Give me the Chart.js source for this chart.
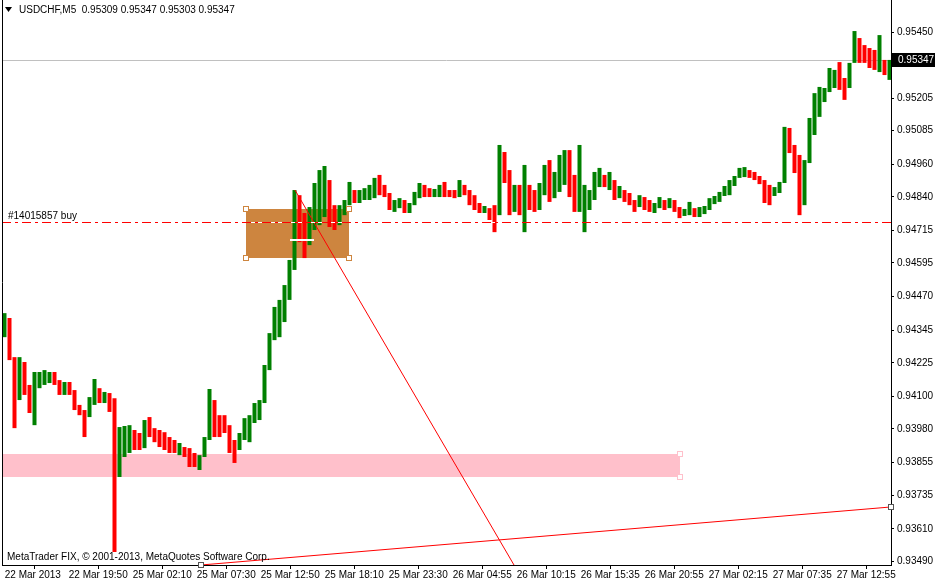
<!DOCTYPE html>
<html>
<head>
<meta charset="utf-8">
<script src="https://cdn.jsdelivr.net/npm/chart.js@4.4.1/dist/chart.umd.min.js"></script>
<style>
  html, body { margin: 0; padding: 0; background: #fff; overflow: hidden; }
  canvas { display: block; }
</style>
</head>
<body>
<canvas id="chart" width="935" height="583"></canvas>
<script>
// USDCHF M5, each point = 5 bars of M5 (25 min)
const tickLabels = ['22 Mar 2013', '22 Mar 19:50', '25 Mar 02:10', '25 Mar 07:30', '25 Mar 12:50', '25 Mar 18:10',
  '25 Mar 23:30', '26 Mar 04:55', '26 Mar 10:15', '26 Mar 15:35', '26 Mar 20:55', '27 Mar 02:15', '27 Mar 07:35', '27 Mar 12:55'];
const priceTicks = [0.95450, 0.95330, 0.95205, 0.95085, 0.94960, 0.94840, 0.94715, 0.94595, 0.94470,
  0.94345, 0.94225, 0.94100, 0.93980, 0.93855, 0.93735, 0.93610, 0.93490];

const highs = [
  0.94409, 0.94391, 0.94246, 0.94246, 0.94228, 0.94143, 0.94191, 0.94191, 0.94198, 0.94191,
  0.94191, 0.94161, 0.94154, 0.94154, 0.94124, 0.94069, 0.94050, 0.94098, 0.94165, 0.94131,
  0.94117, 0.94113, 0.94094, 0.93987, 0.93991, 0.93994, 0.93976, 0.93965, 0.94013, 0.94024,
  0.93983, 0.93976, 0.93968, 0.93950, 0.93939, 0.93928, 0.93913, 0.93909, 0.93891, 0.93883,
  0.93950, 0.94128, 0.94087, 0.94031, 0.94031, 0.93994, 0.93939, 0.93965, 0.94020, 0.94031,
  0.94076, 0.94087, 0.94217, 0.94335, 0.94432, 0.94458, 0.94513, 0.94606, 0.94865, 0.94846,
  0.94780, 0.94802, 0.94891, 0.94939, 0.94954, 0.94902, 0.94809, 0.94809, 0.94828, 0.94895,
  0.94865, 0.94865, 0.94872, 0.94884, 0.94910, 0.94921, 0.94884, 0.94854, 0.94828, 0.94835,
  0.94828, 0.94817, 0.94858, 0.94891, 0.94884, 0.94872, 0.94869, 0.94884, 0.94895, 0.94865,
  0.94865, 0.94902, 0.94884, 0.94865, 0.94846, 0.94817, 0.94806, 0.94798, 0.94809, 0.95032,
  0.95006, 0.94939, 0.94884, 0.94884, 0.94958, 0.94884, 0.94865, 0.94891, 0.94958, 0.94976,
  0.94932, 0.94995, 0.95013, 0.95013, 0.94921, 0.95032, 0.94884, 0.94865, 0.94932, 0.94947,
  0.94921, 0.94932, 0.94902, 0.94880, 0.94865, 0.94854, 0.94828, 0.94846, 0.94839, 0.94828,
  0.94817, 0.94839, 0.94828, 0.94835, 0.94828, 0.94802, 0.94795, 0.94821, 0.94798, 0.94802,
  0.94806, 0.94835, 0.94843, 0.94858, 0.94880, 0.94902, 0.94917, 0.94947, 0.94950, 0.94939,
  0.94932, 0.94917, 0.94902, 0.94884, 0.94876, 0.94895, 0.95099, 0.95095, 0.95032, 0.94995,
  0.94976, 0.95132, 0.95224, 0.95247, 0.95243, 0.95317, 0.95310, 0.95339, 0.95280, 0.95336,
  0.95454, 0.95428, 0.95402, 0.95391, 0.95384, 0.95439, 0.95347, 0.95347
];
const lows = [
  0.94320, 0.94235, 0.93983, 0.94087, 0.94106, 0.94039, 0.93994, 0.94131, 0.94143, 0.94150,
  0.94143, 0.94106, 0.94106, 0.94106, 0.94050, 0.94031, 0.93950, 0.94024, 0.94069, 0.94076,
  0.94076, 0.94043, 0.93524, 0.93802, 0.93876, 0.93891, 0.93902, 0.93902, 0.93909, 0.93950,
  0.93931, 0.93913, 0.93902, 0.93891, 0.93891, 0.93883, 0.93876, 0.93839, 0.93839, 0.93828,
  0.93876, 0.93939, 0.93950, 0.93950, 0.93965, 0.93891, 0.93854, 0.93902, 0.93939, 0.93931,
  0.94002, 0.94013, 0.94076, 0.94198, 0.94309, 0.94320, 0.94376, 0.94458, 0.94569, 0.94672,
  0.94613, 0.94661, 0.94717, 0.94735, 0.94765, 0.94728, 0.94717, 0.94735, 0.94772, 0.94809,
  0.94817, 0.94817, 0.94828, 0.94828, 0.94835, 0.94846, 0.94839, 0.94791, 0.94784, 0.94798,
  0.94780, 0.94780, 0.94809, 0.94835, 0.94839, 0.94839, 0.94839, 0.94839, 0.94839, 0.94839,
  0.94835, 0.94839, 0.94846, 0.94809, 0.94791, 0.94780, 0.94780, 0.94754, 0.94709, 0.94772,
  0.94891, 0.94772, 0.94784, 0.94772, 0.94709, 0.94791, 0.94784, 0.94791, 0.94846, 0.94821,
  0.94835, 0.94858, 0.94884, 0.94839, 0.94784, 0.94784, 0.94709, 0.94791, 0.94828, 0.94876,
  0.94876, 0.94865, 0.94828, 0.94835, 0.94821, 0.94809, 0.94784, 0.94802, 0.94791, 0.94784,
  0.94780, 0.94798, 0.94791, 0.94798, 0.94784, 0.94761, 0.94769, 0.94772, 0.94765, 0.94765,
  0.94776, 0.94791, 0.94813, 0.94821, 0.94843, 0.94846, 0.94880, 0.94910, 0.94913, 0.94910,
  0.94902, 0.94887, 0.94817, 0.94809, 0.94843, 0.94854, 0.94891, 0.95002, 0.94928, 0.94772,
  0.94809, 0.94965, 0.95069, 0.95136, 0.95191, 0.95228, 0.95243, 0.95236, 0.95199, 0.95243,
  0.95336, 0.95336, 0.95336, 0.95317, 0.95310, 0.95302, 0.95291, 0.95273
];
const closes = [
  0.94365, 0.94272, 0.94180, 0.94198, 0.94143, 0.94087, 0.94161, 0.94161, 0.94168, 0.94168,
  0.94154, 0.94124, 0.94131, 0.94117, 0.94069, 0.94050, 0.93994, 0.94080, 0.94106, 0.94087,
  0.94106, 0.94069, 0.93828, 0.93920, 0.93939, 0.93968, 0.93939, 0.93931, 0.93994, 0.93976,
  0.93957, 0.93939, 0.93920, 0.93909, 0.93902, 0.93902, 0.93894, 0.93865, 0.93857, 0.93872,
  0.93939, 0.94069, 0.94013, 0.93994, 0.93976, 0.93920, 0.93902, 0.93950, 0.93994, 0.94013,
  0.94057, 0.94069, 0.94198, 0.94309, 0.94402, 0.94420, 0.94476, 0.94569, 0.94791, 0.94735,
  0.94680, 0.94772, 0.94809, 0.94828, 0.94846, 0.94791, 0.94761, 0.94784, 0.94809, 0.94846,
  0.94839, 0.94846, 0.94854, 0.94865, 0.94884, 0.94872, 0.94858, 0.94809, 0.94809, 0.94817,
  0.94798, 0.94809, 0.94846, 0.94865, 0.94858, 0.94854, 0.94858, 0.94865, 0.94858, 0.94850,
  0.94846, 0.94884, 0.94865, 0.94835, 0.94809, 0.94791, 0.94791, 0.94784, 0.94754, 0.94976,
  0.94921, 0.94828, 0.94846, 0.94828, 0.94865, 0.94828, 0.94809, 0.94865, 0.94921, 0.94865,
  0.94884, 0.94947, 0.94958, 0.94884, 0.94828, 0.94828, 0.94828, 0.94835, 0.94902, 0.94902,
  0.94895, 0.94902, 0.94858, 0.94858, 0.94839, 0.94828, 0.94809, 0.94828, 0.94809, 0.94802,
  0.94802, 0.94828, 0.94809, 0.94817, 0.94798, 0.94772, 0.94784, 0.94791, 0.94776, 0.94784,
  0.94798, 0.94821, 0.94835, 0.94846, 0.94865, 0.94884, 0.94902, 0.94932, 0.94932, 0.94921,
  0.94913, 0.94902, 0.94865, 0.94858, 0.94865, 0.94884, 0.95069, 0.95050, 0.94976, 0.94828,
  0.94958, 0.95106, 0.95199, 0.95217, 0.95217, 0.95280, 0.95280, 0.95273, 0.95254, 0.95310,
  0.95402, 0.95384, 0.95365, 0.95347, 0.95339, 0.95384, 0.95310, 0.95347
];

// objects on the chart, in (M5 bar index, price)
const lastPrice = 0.95347;
const orderPrice = 0.94746;
const orderLabel = '#14015857 buy';
const orangeBox = { x: [244, 347], y: [0.94795, 0.94613] };
const pinkBox = { x: [-40, 678], y: [0.93887, 0.93802] };
const trendA = { x: [293, 512], y: [0.94865, 0.93476] };
const trendB = { x: [199, 889], y: [0.93476, 0.93691] };
const entryMark = { x: [288, 312], y: 0.94680 };

const barsPerPoint = 5;
const barsPerLabel = 64;
const priceMin = 0.93476, priceMax = 0.95569;
const titleText = 'USDCHF,M5  0.95309 0.95347 0.95303 0.95347';
const footerText = 'MetaTrader FIX, \u00a9 2001-2013, MetaQuotes Software Corp.';

const upColor = '#008000';
const downColor = '#ff0000';
const font = { family: 'Liberation Sans', size: 10 };
const fontStr = '10px "Liberation Sans"';

const barData = lows.map((lo, i) => ({ x: i * barsPerPoint + barsPerPoint / 2, y: [lo, highs[i]] }));
const barColors = closes.map((c, i) => (i === 0 || c >= closes[i - 1]) ? upColor : downColor);

function boxRect(x, y, box) {
  const x1 = x.getPixelForValue(box.x[0]), x2 = x.getPixelForValue(box.x[1]);
  const y1 = y.getPixelForValue(box.y[0]), y2 = y.getPixelForValue(box.y[1]);
  return [Math.round(x1), Math.round(y1), Math.round(x2), Math.round(y2)];
}

function handle(ctx, px, py, color) {
  ctx.fillStyle = '#fff';
  ctx.fillRect(px - 2, py - 2, 5, 5);
  ctx.strokeStyle = color;
  ctx.lineWidth = 1;
  ctx.strokeRect(px - 2.5, py - 2.5, 5, 5);
}

function noPad(s) {
  s.paddingTop = 0;
  s.paddingBottom = 0;
  s.paddingLeft = 0;
  s.paddingRight = 0;
}

const overlays = {
  id: 'overlays',
  beforeDatasetsDraw(chart) {
    const { ctx, chartArea: a, scales: { x, y } } = chart;
    ctx.save();
    ctx.beginPath();
    ctx.rect(a.left, a.top, a.right - a.left, a.bottom - a.top);
    ctx.clip();
    let r = boxRect(x, y, pinkBox);
    ctx.fillStyle = '#ffc0cb';
    ctx.fillRect(r[0], r[1], r[2] - r[0], r[3] - r[1]);
    r = boxRect(x, y, orangeBox);
    ctx.fillStyle = '#cd853f';
    ctx.fillRect(r[0], r[1], r[2] - r[0], r[3] - r[1]);
    const py = Math.round(y.getPixelForValue(lastPrice)) + 0.5;
    ctx.strokeStyle = '#c0c0c0';
    ctx.lineWidth = 1;
    ctx.beginPath();
    ctx.moveTo(a.left, py);
    ctx.lineTo(a.right, py);
    ctx.stroke();
    ctx.restore();
  },
  afterDatasetsDraw(chart) {
    const { ctx, chartArea: a, scales: { x, y } } = chart;
    ctx.save();
    // order line
    const oy = Math.round(y.getPixelForValue(orderPrice)) + 0.5;
    ctx.lineWidth = 1;
    ctx.strokeStyle = '#fff';
    ctx.beginPath(); ctx.moveTo(a.left, oy); ctx.lineTo(a.right, oy); ctx.stroke();
    ctx.strokeStyle = '#ff0000';
    ctx.setLineDash([9, 4, 3, 4]);
    ctx.beginPath(); ctx.moveTo(a.left, oy); ctx.lineTo(a.right, oy); ctx.stroke();
    ctx.setLineDash([]);
    // entry mark
    const ey = Math.round(y.getPixelForValue(entryMark.y));
    ctx.fillStyle = '#fff';
    ctx.fillRect(x.getPixelForValue(entryMark.x[0]), ey - 1, x.getPixelForValue(entryMark.x[1]) - x.getPixelForValue(entryMark.x[0]), 2);
    // handles
    let r = boxRect(x, y, orangeBox);
    [[r[0], r[1]], [r[2], r[1]], [r[0], r[3]], [r[2], r[3]]].forEach(p => handle(ctx, p[0], p[1], '#cd853f'));
    r = boxRect(x, y, pinkBox);
    [[r[2], r[1]], [r[2], r[3]]].forEach(p => handle(ctx, p[0], p[1], '#ffc0cb'));
    [0, 1].forEach(i => handle(ctx, Math.round(x.getPixelForValue(trendB.x[i])), Math.round(y.getPixelForValue(trendB.y[i])), '#555'));
    // left border
    ctx.strokeStyle = '#000';
    ctx.beginPath(); ctx.moveTo(a.left + 0.5, a.top); ctx.lineTo(a.left + 0.5, a.bottom); ctx.stroke();
    // texts
    ctx.font = fontStr;
    ctx.fillStyle = '#000';
    ctx.textBaseline = 'middle';
    ctx.textAlign = 'left';
    ctx.fillText(orderLabel, a.left + 6, oy - 6);
    ctx.fillText(footerText, a.left + 5, a.bottom - 8);
    ctx.fillText(titleText, a.left + 17, 10);
    ctx.beginPath();
    ctx.moveTo(a.left + 3, 7); ctx.lineTo(a.left + 10, 7); ctx.lineTo(a.left + 6.5, 12); ctx.closePath();
    ctx.fill();
    ctx.restore();
  },
  afterDraw(chart) {
    const { ctx, chartArea: a, scales: { y } } = chart;
    const py = Math.round(y.getPixelForValue(lastPrice));
    ctx.save();
    ctx.fillStyle = '#000';
    ctx.fillRect(a.right + 1, py - 7, chart.width - a.right - 1, 14);
    ctx.fillStyle = '#fff';
    ctx.font = fontStr;
    ctx.textBaseline = 'middle';
    ctx.fillText(lastPrice.toFixed(5), a.right + 7, py + 0.5);
    ctx.restore();
  }
};

new Chart(document.getElementById('chart'), {
  type: 'bar',
  data: {
    datasets: [{
      type: 'line',
      order: 0,
      data: trendA.x.map((v, i) => ({ x: v, y: trendA.y[i] })),
      borderColor: '#ff0000',
      borderWidth: 1,
      pointRadius: 0,
      tension: 0
    }, {
      type: 'line',
      order: 0,
      data: trendB.x.map((v, i) => ({ x: v, y: trendB.y[i] })),
      borderColor: '#ff0000',
      borderWidth: 1,
      pointRadius: 0,
      tension: 0
    }, {
      type: 'bar',
      order: 1,
      data: barData,
      backgroundColor: barColors,
      borderWidth: 0,
      barPercentage: 0.8,
      categoryPercentage: 1,
      grouped: false
    }]
  },
  options: {
    responsive: false,
    animation: false,
    devicePixelRatio: 1,
    events: [],
    layout: { padding: { left: 2, top: 0, right: 0, bottom: 0 } },
    plugins: { legend: { display: false }, tooltip: { enabled: false } },
    scales: {
      x: {
        type: 'linear',
        min: 0,
        max: 889,
        offset: false,
        afterFit(s) { s.height = 18; noPad(s); },
        afterBuildTicks(s) { s.ticks = tickLabels.map((t, i) => ({ value: i * barsPerLabel })); },
        grid: { drawOnChartArea: false, drawTicks: true, tickLength: 4, color: '#000' },
        border: { display: true, color: '#000' },
        ticks: {
          align: 'start', maxRotation: 0, autoSkip: false, padding: 0, color: '#000', font,
          callback: (v, i) => ' ' + tickLabels[i]
        }
      },
      y: {
        position: 'right',
        min: priceMin,
        max: priceMax,
        afterFit(s) { s.width = 44; noPad(s); },
        afterBuildTicks(s) { s.ticks = priceTicks.map(v => ({ value: v })); },
        grid: { drawOnChartArea: false, drawTicks: true, tickLength: 3, color: '#000' },
        border: { display: true, color: '#000' },
        ticks: { padding: 3, color: '#000', font, callback: v => v.toFixed(5) }
      }
    }
  },
  plugins: [overlays]
});
</script>
</body>
</html>
